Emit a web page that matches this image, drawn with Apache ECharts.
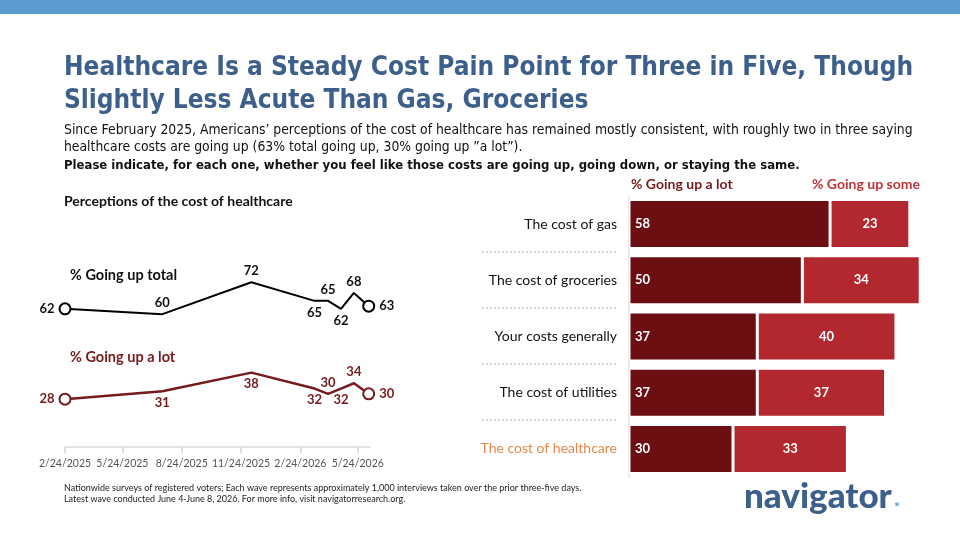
<!DOCTYPE html>
<html>
<head>
<meta charset="utf-8">
<script src="https://cdn.jsdelivr.net/npm/echarts@6/dist/echarts.min.js"></script>
<style>
  html, body { margin: 0; padding: 0; background: #fff; }
  #main { width: 960px; height: 540px; }
</style>
</head>
<body>
<div id="main"></div>
<script>
// line chart data (survey waves)
const waveDates = ["2025-02-24", "2025-07-25", "2025-12-10", "2026-03-18", "2026-04-08", "2026-04-28", "2026-05-18", "2026-06-10"];
const upTotal = [62, 60, 72, 65, 65, 62, 68, 63];
const upLot = [28, 31, 38, 32, 30, 32, 34, 30];
const tickDates = ["2025-02-24", "2025-05-24", "2025-08-24", "2025-11-24", "2026-02-24", "2026-05-24"];

// bar chart data
const costItems = ["The cost of gas", "The cost of groceries", "Your costs generally", "The cost of utilities", "The cost of healthcare"];
const goingUpLot = [58, 50, 37, 37, 30];
const goingUpSome = [23, 34, 40, 37, 33];

// label placement for each point (style only)
const totalPos = ["left", "top", "top", "bottom", "top", "bottom", "top", "right"];
const lotPos = ["left", "bottom", "bottom", "bottom", "top", "bottom", "top", "right"];

const FONT = "Lato";
const NARROW = "'DejaVu Sans Condensed'";
const DARKRED = "#761a1d";
const RED = "#b3282e";
const MAROON = "#6c0f13";

// date string -> timestamp (x axis is a plain value axis in ms)
const toTime = (s) => {
  const p = s.split("-").map(Number);
  return new Date(p[0], p[1] - 1, p[2]).getTime();
};

const buildLine = (values, positions) =>
  values.map((v, i) => {
    const end = i === 0 || i === values.length - 1;
    return {
      value: [toTime(waveDates[i]), v],
      symbolSize: end ? 11 : 0,
      label: { position: positions[i], distance: end ? 4 : 5 },
    };
  });

const chart = echarts.init(document.getElementById("main"));

const option = {
  animation: false,
  textStyle: { fontFamily: FONT },
  grid: [
    { left: 65, right: 590, top: 261, bottom: 93 },
    { left: 629, right: 19, top: 196, bottom: 63 },
  ],
  xAxis: [
    {
      type: "value",
      gridIndex: 0,
      min: toTime("2025-02-24"),
      max: toTime("2026-06-12"),
      axisLine: { show: true, lineStyle: { color: "#dddddd", width: 1.5 } },
      axisTick: {
        show: true,
        customValues: tickDates.map(toTime),
        length: 6,
        lineStyle: { color: "#d5d5d5", width: 1.5 },
      },
      axisLabel: {
        customValues: tickDates.map(toTime),
        showMinLabel: true,
        showMaxLabel: true,
        hideOverlap: false,
        color: "#555",
        fontSize: 10.5,
        margin: 11,
        formatter: (val) => {
          const d = new Date(val);
          return d.getMonth() + 1 + "/" + d.getDate() + "/" + d.getFullYear();
        },
      },
      splitLine: { show: false },
    },
    {
      type: "value",
      gridIndex: 1,
      min: 0,
      max: 90,
      show: false,
    },
  ],
  yAxis: [
    { type: "value", gridIndex: 0, min: 10, max: 80, show: false },
    {
      type: "category",
      gridIndex: 1,
      data: costItems,
      inverse: true,
      axisLine: { show: true, lineStyle: { color: "#f3dede", width: 1.5 } },
      axisTick: { show: false },
      axisLabel: {
        fontSize: 14,
        margin: 12,
        color: (val) => (val === "The cost of healthcare" ? "#e08a4c" : "#111"),
      },
    },
  ],
  series: [
    {
      name: "% Going up total",
      type: "line",
      xAxisIndex: 0,
      yAxisIndex: 0,
      data: buildLine(upTotal, totalPos),
      symbol: "circle",
      lineStyle: { color: "#000", width: 2 },
      itemStyle: { color: "#fff", borderColor: "#000", borderWidth: 2 },
      label: { show: true, color: "#111", fontSize: 13, fontWeight: "bold",
        formatter: (p) => p.value[1] },
    },
    {
      name: "% Going up a lot",
      type: "line",
      xAxisIndex: 0,
      yAxisIndex: 0,
      data: buildLine(upLot, lotPos),
      symbol: "circle",
      lineStyle: { color: DARKRED, width: 2.5 },
      itemStyle: { color: "#fff", borderColor: DARKRED, borderWidth: 2 },
      label: { show: true, color: DARKRED, fontSize: 13, fontWeight: "bold",
        formatter: (p) => p.value[1] },
    },
    {
      name: "% Going up a lot",
      type: "bar",
      xAxisIndex: 1,
      yAxisIndex: 1,
      stack: "up",
      data: goingUpLot,
      barWidth: 49,
      itemStyle: { color: MAROON, borderColor: "#fff", borderWidth: 1.5 },
      label: { show: true, position: "insideLeft", offset: [1, 0], color: "#fff", fontSize: 13, fontWeight: "bold" },
    },
    {
      name: "% Going up some",
      type: "bar",
      xAxisIndex: 1,
      yAxisIndex: 1,
      stack: "up",
      data: goingUpSome,
      barWidth: 49,
      itemStyle: { color: RED, borderColor: "#fff", borderWidth: 1.5 },
      label: { show: true, position: "inside", color: "#fff", fontSize: 13, fontWeight: "bold" },
    },
  ],
  graphic: [
    { type: "rect", shape: { x: 0, y: 0, width: 960, height: 14 }, style: { fill: "#5b9bd1" } },
    { type: "text", left: 64, top: 55, style: { text: "Healthcare Is a Steady Cost Pain Point for Three in Five, Though", fill: "#3c5f8b", font: "bold 26px " + NARROW } },
    { type: "text", left: 64, top: 88, style: { text: "Slightly Less Acute Than Gas, Groceries", fill: "#3c5f8b", font: "bold 26px " + NARROW } },
    { type: "text", left: 64, top: 123, style: { text: "Since February 2025, Americans\u2019 perceptions of the cost of healthcare has remained mostly consistent, with roughly two in three saying", fill: "#111", font: "13.8px " + NARROW } },
    { type: "text", left: 64, top: 140, style: { text: "healthcare costs are going up (63% total going up, 30% going up \u201da lot\u201d).", fill: "#111", font: "13.8px " + NARROW } },
    { type: "text", left: 64, top: 159, style: { text: "Please indicate, for each one, whether you feel like those costs are going up, going down, or staying the same.", fill: "#111", font: "bold 13px " + NARROW } },
    { type: "text", left: 64, top: 194, style: { text: "Perceptions of the cost of healthcare", fill: "#111", font: "bold 14px " + FONT } },
    { type: "text", left: 70, top: 268, style: { text: "% Going up total", fill: "#111", font: "bold 14.5px " + FONT } },
    { type: "text", left: 70, top: 350, style: { text: "% Going up a lot", fill: DARKRED, font: "bold 14.5px " + FONT } },
    { type: "text", left: 631, top: 177, style: { text: "% Going up a lot", fill: DARKRED, font: "bold 14px " + FONT } },
    { type: "text", left: 812, top: 177, style: { text: "% Going up some", fill: "#c0343a", font: "bold 14px " + FONT } },
    { type: "line", shape: { x1: 482, y1: 252, x2: 618, y2: 252 }, style: { stroke: "#cccccc", lineWidth: 1.5, lineDash: [2, 2] } },
    { type: "line", shape: { x1: 482, y1: 308, x2: 618, y2: 308 }, style: { stroke: "#cccccc", lineWidth: 1.5, lineDash: [2, 2] } },
    { type: "line", shape: { x1: 482, y1: 364, x2: 618, y2: 364 }, style: { stroke: "#cccccc", lineWidth: 1.5, lineDash: [2, 2] } },
    { type: "line", shape: { x1: 482, y1: 420, x2: 618, y2: 420 }, style: { stroke: "#cccccc", lineWidth: 1.5, lineDash: [2, 2] } },
    { type: "text", left: 64, top: 484, style: { text: "Nationwide surveys of registered voters; Each wave represents approximately 1,000 interviews taken over the prior three-five days.", fill: "#222", font: "9px " + FONT } },
    { type: "text", left: 64, top: 495, style: { text: "Latest wave conducted June 4-June 8, 2026. For more info, visit navigatorresearch.org.", fill: "#222", font: "9px " + FONT } },
    { type: "text", left: 744, top: 479, style: { text: "navigator", fill: "#3c5f8b", font: "900 35px " + FONT } },
    { type: "text", left: 894, top: 500, style: { text: "*", fill: "#5b9bd1", font: "bold 14px " + FONT } },
  ],
};

chart.setOption(option);
window.addEventListener("resize", () => chart.resize());
</script>
</body>
</html>
